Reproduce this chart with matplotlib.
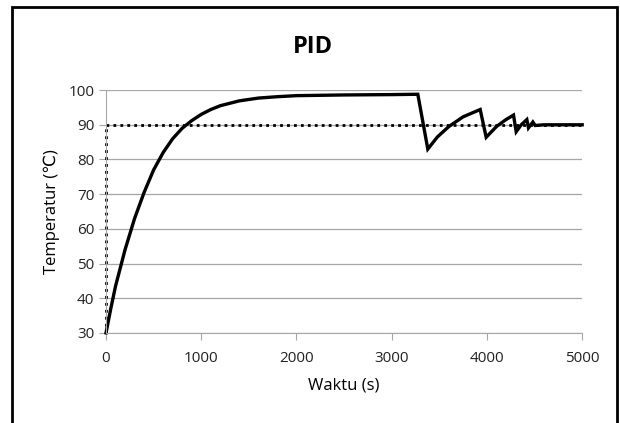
import matplotlib
matplotlib.use('Agg')
import matplotlib.pyplot as plt
from matplotlib.patches import Rectangle

# respon suhu PID
waktu = [0, 50, 100, 200, 300, 400, 500, 600, 700, 800, 900, 1000, 1100, 1200, 1400,
         1600, 1800, 2000, 2500, 3000, 3274, 3379, 3480, 3600, 3750, 3929,
         3992, 4100, 4200, 4279, 4307, 4360, 4419, 4436, 4482, 4506, 4600, 5000]
suhu = [30, 37, 43.5, 54, 63, 70.5, 77, 82, 86, 89, 91.2, 93, 94.4, 95.5, 96.9,
        97.7, 98.1, 98.4, 98.6, 98.7, 98.8, 83, 86.5, 89.5, 92.3, 94.4,
        86.4, 89.5, 91.5, 92.8, 88, 90, 91.5, 89.1, 90.8, 89.8, 90, 90]
setpoint = 90

plt.rcParams['font.family'] = ['Open Sans', 'DejaVu Sans']

fig = plt.figure(figsize=(6.2, 4.23), dpi=100)
ax = fig.add_axes([0.171, 0.213, 0.768, 0.574])

# garis setpoint
ax.plot([0, 0], [30, setpoint], color='black', linestyle=(0, (1, 1.5)), lw=2,
        clip_on=False)
ax.plot([0, 5000], [setpoint, setpoint], color='black', linestyle=(0, (1, 1.5)), lw=2,
        clip_on=False)
ax.plot(waktu, suhu, color='black', lw=2.4, solid_joinstyle='miter', clip_on=False)

ax.set_xlim(0, 5000)
ax.set_ylim(30, 100)
ax.set_xticks(range(0, 5001, 1000))
ax.set_yticks(range(30, 101, 10))
ax.yaxis.grid(True, color='#a6a6a6', lw=0.9)
ax.set_axisbelow(True)
for s in ['top', 'right']:
    ax.spines[s].set_visible(False)
for s in ['left', 'bottom']:
    ax.spines[s].set_color('#a6a6a6')
ax.tick_params(colors='#a6a6a6', labelcolor='#222222', labelsize=11, length=5)
ax.tick_params(axis='x', pad=8)

ax.set_xlabel('Waktu (s)', fontsize=12, labelpad=8)
ax.set_ylabel('Temperatur (℃)', fontsize=12, labelpad=6)
fig.text(0.505, 0.889, 'PID', ha='center', va='center', fontsize=17, fontweight='bold')

fig.patches.append(Rectangle((12 / 620, -0.1), 605 / 620, 1.1 - 7 / 423,
                             transform=fig.transFigure, fill=False,
                             edgecolor='black', lw=2, figure=fig))

fig.savefig('out.png', dpi=100)
